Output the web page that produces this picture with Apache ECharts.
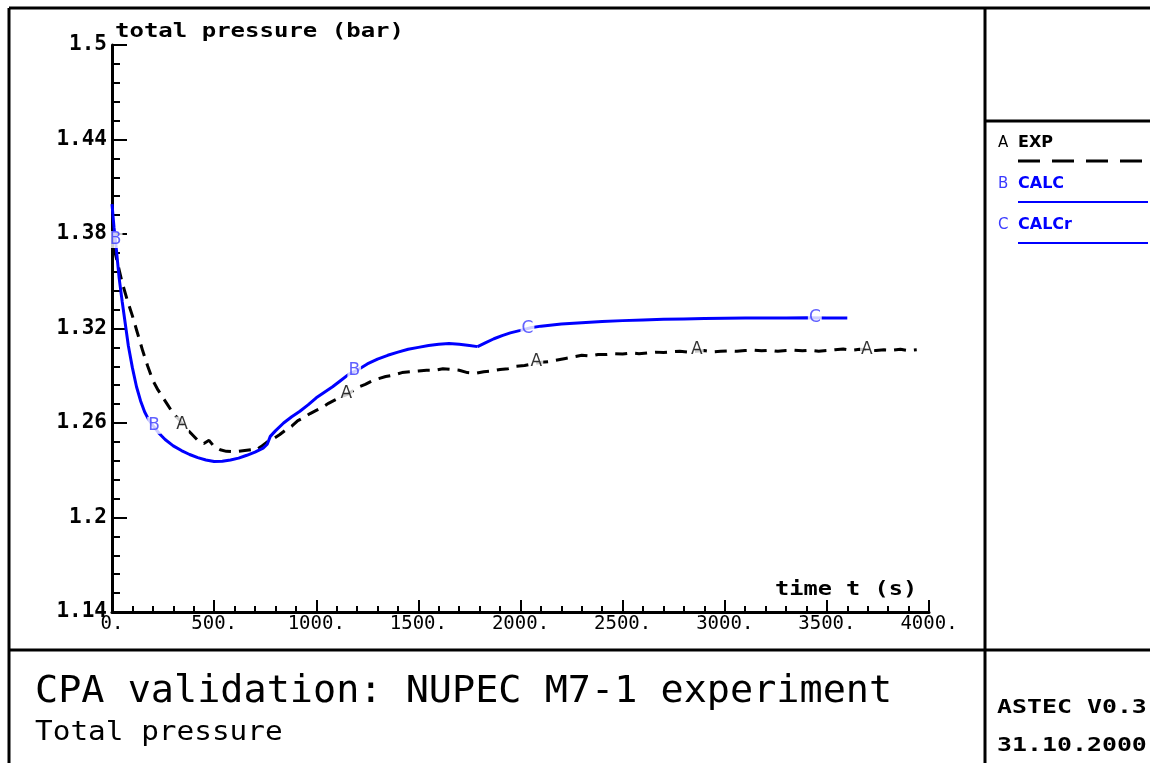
<!DOCTYPE html>
<html>
<head>
<meta charset="utf-8">
<title>CPA validation: NUPEC M7-1 experiment</title>
<script src="https://cdn.jsdelivr.net/npm/echarts@6/dist/echarts.min.js"></script>
<style>
  html, body { margin: 0; padding: 0; background: #ffffff; }
  #chart { width: 1150px; height: 763px; }
</style>
</head>
<body>
<div id="chart"></div>
<script>
// Axis tick labels
const xTickLabels = ['0.', '500.', '1000.', '1500.', '2000.', '2500.', '3000.', '3500.', '4000.'];
const yTickLabels = ['1.14', '1.2', '1.26', '1.32', '1.38', '1.44', '1.5'];

// Curve names and the letter tags that identify them
const seriesNames = ['EXP', 'CALC', 'CALCr'];
const seriesTags = ['A', 'B', 'C'];

// EXP: measured total pressure [time s, pressure bar]
const expData = [
  [10,1.371],[30,1.360],[50,1.349],[75,1.338],[100,1.328],[125,1.317],[150,1.306],[175,1.296],
  [200,1.287],[225,1.281],[250,1.276],[275,1.271],[300,1.266],[330,1.262],[360,1.257],[390,1.253],
  [420,1.249],[450,1.247],[475,1.249],[500,1.245],[530,1.243],[560,1.242],[590,1.2418],[620,1.242],
  [650,1.2425],[680,1.243],[700,1.2425],[730,1.245],[760,1.248],[790,1.250],[820,1.2525],[850,1.2555],
  [880,1.258],[910,1.2615],[940,1.2635],[970,1.266],[1000,1.268],[1030,1.270],[1060,1.2725],[1090,1.2745],
  [1120,1.2765],[1150,1.278],[1180,1.2805],[1210,1.283],[1240,1.2845],[1270,1.2865],[1300,1.288],[1340,1.2895],
  [1380,1.2905],[1420,1.292],[1460,1.2925],[1500,1.293],[1540,1.2935],[1580,1.2935],[1620,1.2945],[1660,1.294],
  [1700,1.2935],[1740,1.292],[1780,1.2915],[1820,1.2925],[1860,1.293],[1900,1.294],[1940,1.2945],[1980,1.296],
  [2020,1.2965],[2060,1.2975],[2100,1.2985],[2140,1.299],[2180,1.300],[2220,1.301],[2260,1.302],[2300,1.303],
  [2340,1.3025],[2380,1.3035],[2420,1.3035],[2460,1.304],[2500,1.3038],[2540,1.3045],[2580,1.304],[2620,1.3045],
  [2660,1.305],[2700,1.3048],[2740,1.3052],[2780,1.3055],[2820,1.305],[2860,1.3055],[2900,1.306],[2940,1.3052],
  [2980,1.3055],[3020,1.3058],[3060,1.3055],[3100,1.306],[3140,1.3062],[3180,1.3058],[3220,1.3062],[3260,1.3055],
  [3300,1.306],[3340,1.3062],[3380,1.3058],[3420,1.3062],[3460,1.3056],[3500,1.306],[3540,1.3065],[3580,1.307],
  [3620,1.3062],[3660,1.3068],[3700,1.3065],[3740,1.306],[3780,1.3065],[3820,1.3062],[3860,1.3068],[3900,1.306],
  [3940,1.3065]
];

// CALC: computed pressure, first run
const calcData = [
  [0,1.399],[10,1.384],[20,1.372],[35,1.352],[50,1.337],[65,1.323],[80,1.309],[100,1.295],[120,1.283],
  [140,1.274],[160,1.267],[180,1.262],[200,1.2585],[230,1.2535],[260,1.2495],[300,1.2455],[340,1.2425],
  [380,1.2400],[420,1.2380],[460,1.2365],[500,1.2355],[540,1.2357],[580,1.2365],[620,1.2377],[660,1.2395],
  [700,1.2415],[740,1.2440],[760,1.2465],[775,1.2515],[800,1.2550],[840,1.2600],[880,1.2640],[920,1.2675],
  [960,1.2715],[1000,1.2760],[1040,1.2795],[1080,1.2830],[1120,1.2870],[1160,1.2910],[1200,1.2935],
  [1250,1.2975],[1300,1.3005],[1350,1.3030],[1400,1.3050],[1450,1.3068],[1500,1.3080],[1550,1.3092],
  [1600,1.3100],[1650,1.3104],[1700,1.3100],[1750,1.3092],[1790,1.3085]
];

// CALCr: computed pressure, restarted run
const calcrData = [
  [1790,1.3085],[1830,1.3110],[1870,1.3135],[1910,1.3155],[1950,1.3172],[2000,1.3188],[2050,1.3205],
  [2100,1.3215],[2200,1.3228],[2300,1.3237],[2400,1.3244],[2500,1.3250],[2600,1.3254],[2700,1.3258],
  [2800,1.3261],[2900,1.3263],[3000,1.3265],[3100,1.3266],[3200,1.3267],[3300,1.3267],[3400,1.3268],
  [3500,1.3267],[3600,1.3266]
];

// Where the letter tags sit along each curve
const tagPointsA = [[343,1.2587],[1147,1.2784],[2078,1.2993],[2863,1.3063],[3696,1.3063]];
const tagPointsB = [[18,1.3765],[206,1.2585],[1186,1.2930]];
const tagPointsC = [[2034,1.3200],[3441,1.3268]];

const BLACK = '#000000';
const BLUE = '#0000ff';
const TAG_BLUE = '#3a3aff';
const MONO = '"DejaVu Sans Mono", "Liberation Mono", monospace';
const SANS = '"DejaVu Sans", "Liberation Sans", sans-serif';

const seriesColors = [BLACK, BLUE, BLUE];
const tagColors = [BLACK, TAG_BLUE, TAG_BLUE];

function tagSeries(points, letter, color) {
  return {
    type: 'scatter',
    data: points,
    symbol: 'circle',
    symbolSize: 1,
    itemStyle: { color: 'rgba(0,0,0,0)' },
    silent: true,
    z: 5,
    label: {
      show: true,
      position: 'inside',
      formatter: letter,
      color: color,
      fontFamily: SANS,
      fontSize: 17,
      backgroundColor: '#ffffff',
      padding: [0, 1]
    }
  };
}

// Frame, title block and legend panel
const frame = [];
function hline(x1, x2, y) {
  frame.push({ type: 'line', shape: { x1: x1, y1: y, x2: x2, y2: y }, style: { stroke: BLACK, lineWidth: 3 }, silent: true });
}
function vline(x, y1, y2) {
  frame.push({ type: 'line', shape: { x1: x, y1: y1, x2: x, y2: y2 }, style: { stroke: BLACK, lineWidth: 3 }, silent: true });
}
function text(str, x, y, font, color, sx) {
  frame.push({
    type: 'text', x: x, y: y, scaleX: sx || 1, silent: true,
    style: { text: str, font: font, fill: color, align: 'left', verticalAlign: 'middle', textAlign: 'left', textVerticalAlign: 'middle' }
  });
}

hline(9, 1150, 8);
vline(9, 8, 763);
vline(985, 8, 763);
hline(9, 1150, 650);
hline(985, 1150, 121);

// axis captions
text('total pressure (bar)', 115, 32, 'bold 20px ' + MONO, BLACK, 1.2);
text('time t (s)', 775, 590, 'bold 20px ' + MONO, BLACK, 1.18);

// title block
text('CPA validation: NUPEC M7-1 experiment', 35, 692, '37px ' + MONO, BLACK, 1.04);
text('Total pressure', 35, 733, '26px ' + MONO, BLACK, 1.13);
text('ASTEC V0.3', 997, 708, 'bold 19px ' + MONO, BLACK, 1.31);
text('31.10.2000', 997, 746, 'bold 19px ' + MONO, BLACK, 1.31);

// legend panel
const legendRows = [143, 184, 225];
seriesNames.forEach(function (name, i) {
  const y = legendRows[i];
  text(seriesTags[i], 998, y, '15px ' + SANS, tagColors[i], 1);
  text(name, 1018, y, 'bold 16px ' + SANS, seriesColors[i], 1);
  frame.push({
    type: 'line', silent: true,
    shape: { x1: 1018, y1: y + 18, x2: 1148, y2: y + 18 },
    style: i === 0
      ? { stroke: BLACK, lineWidth: 3, lineDash: [22, 12] }
      : { stroke: BLUE, lineWidth: 2 }
  });
});

const option = {
  animation: false,
  backgroundColor: '#ffffff',
  grid: { left: 112, right: 221, top: 45, bottom: 151, containLabel: false },
  xAxis: {
    type: 'value',
    min: 0,
    max: 4000,
    interval: 500,
    axisLine: { show: true, onZero: false, lineStyle: { color: BLACK, width: 3 } },
    axisTick: { show: true, inside: true, length: 12, lineStyle: { color: BLACK, width: 2 } },
    minorTick: { show: true, splitNumber: 5, length: 6, lineStyle: { color: BLACK, width: 2 } },
    splitLine: { show: false },
    minorSplitLine: { show: false },
    axisLabel: {
      margin: 3,
      color: BLACK,
      fontFamily: MONO,
      fontSize: 19,
      formatter: function (v) { return xTickLabels[Math.round(v / 500)]; }
    }
  },
  yAxis: {
    type: 'value',
    min: 1.14,
    max: 1.5,
    interval: 0.06,
    axisLine: { show: true, onZero: false, lineStyle: { color: BLACK, width: 3 } },
    axisTick: { show: true, inside: true, length: 15, lineStyle: { color: BLACK, width: 2 } },
    minorTick: { show: true, splitNumber: 5, length: 8, lineStyle: { color: BLACK, width: 2 } },
    splitLine: { show: false },
    minorSplitLine: { show: false },
    axisLabel: {
      margin: 5,
      color: BLACK,
      fontFamily: MONO,
      fontWeight: 'bold',
      fontSize: 21,
      formatter: function (v) { return yTickLabels[Math.round((v - 1.14) / 0.06)]; }
    }
  },
  graphic: frame,
  series: [
    {
      name: seriesNames[0],
      type: 'line',
      data: expData,
      symbol: 'none',
      z: 3,
      lineStyle: { color: BLACK, width: 3, type: [12, 8] }
    },
    {
      name: seriesNames[1],
      type: 'line',
      data: calcData,
      symbol: 'none',
      z: 4,
      lineStyle: { color: BLUE, width: 3 }
    },
    {
      name: seriesNames[2],
      type: 'line',
      data: calcrData,
      symbol: 'none',
      z: 4,
      lineStyle: { color: BLUE, width: 3 }
    },
    tagSeries(tagPointsA, seriesTags[0], tagColors[0]),
    tagSeries(tagPointsB, seriesTags[1], tagColors[1]),
    tagSeries(tagPointsC, seriesTags[2], tagColors[2])
  ]
};

const chart = echarts.init(document.getElementById('chart'), null, { renderer: 'canvas' });
chart.setOption(option);
</script>
</body>
</html>
